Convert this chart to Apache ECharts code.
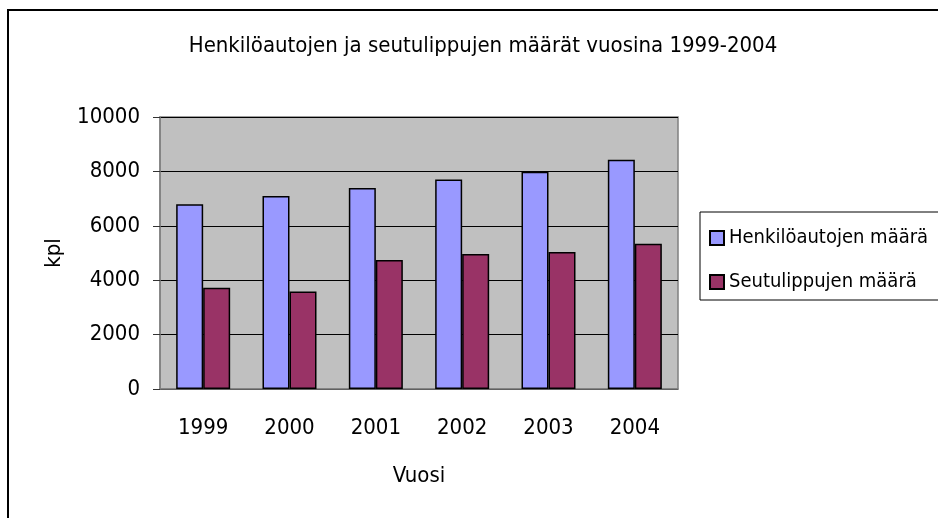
<!DOCTYPE html>
<html>
<head>
<meta charset="utf-8">
<script src="https://cdn.jsdelivr.net/npm/echarts@6/dist/echarts.min.js"></script>
<style>
  html, body { margin: 0; padding: 0; background: #fff; }
  #chart { width: 938px; height: 518px; }
</style>
</head>
<body>
<div id="chart"></div>
<script>
const years = ['1999', '2000', '2001', '2002', '2003', '2004']
const cars = [6790, 7100, 7390, 7700, 7990, 8430]
const tickets = [3720, 3580, 4740, 4960, 5040, 5340]

const font = "'Liberation Sans Narrow', 'Arial Narrow', 'DejaVu Sans Condensed', sans-serif"

const chart = echarts.init(document.getElementById('chart'))

chart.setOption({
  animation: false,
  textStyle: { fontFamily: font, color: '#000' },
  title: {
    text: 'Henkilöautojen ja seutulippujen määrät vuosina 1999-2004',
    left: 478,
    top: 30,
    textAlign: 'center',
    textStyle: { fontFamily: font, fontSize: 22, fontWeight: 'normal', color: '#000' },
  },
  graphic: [
    {
      type: 'rect',
      shape: { x: 8, y: 10, width: 1000, height: 600 },
      style: { fill: 'none', stroke: '#000', lineWidth: 2 },
      silent: true,
    },
  ],
  legend: {
    orient: 'vertical',
    left: 700,
    top: 212,
    padding: [16, 40, 8, 9],
    itemGap: 24,
    itemWidth: 14,
    itemHeight: 14,
    icon: 'rect',
    borderColor: '#000',
    borderWidth: 1,
    textStyle: { fontFamily: font, fontSize: 20, color: '#000' },
  },
  grid: {
    left: 160,
    right: 260,
    top: 117,
    bottom: 129,
    show: true,
    backgroundColor: '#c0c0c0',
    borderColor: '#808080',
    borderWidth: 1.5,
  },
  xAxis: {
    type: 'category',
    data: years,
    name: 'Vuosi',
    nameLocation: 'middle',
    nameGap: 76,
    nameTextStyle: { fontFamily: font, fontSize: 22, color: '#000' },
    axisLine: { lineStyle: { color: '#808080', width: 1.5 } },
    axisTick: { length: 7, lineStyle: { color: '#333' } },
    axisLabel: { margin: 28, fontFamily: font, fontSize: 22, color: '#000' },
  },
  yAxis: {
    type: 'value',
    min: 0,
    max: 10000,
    interval: 2000,
    name: 'kpl',
    nameLocation: 'middle',
    nameGap: 95,
    nameTextStyle: { fontFamily: font, fontSize: 22, color: '#000' },
    axisLine: { show: true, lineStyle: { color: '#808080', width: 1.5 } },
    axisTick: { show: true, length: 7, lineStyle: { color: '#333' } },
    axisLabel: { margin: 20, fontFamily: font, fontSize: 22, color: '#000', formatter: (v) => String(v) },
    splitLine: { lineStyle: { color: '#000', width: 1 } },
  },
  series: [
    {
      name: 'Henkilöautojen määrä',
      type: 'bar',
      data: cars,
      barWidth: 27,
      barGap: '0%',
      itemStyle: { color: '#9999ff', borderColor: '#000', borderWidth: 1.5 },
    },
    {
      name: 'Seutulippujen määrä',
      type: 'bar',
      data: tickets,
      barWidth: 27,
      barGap: '0%',
      itemStyle: { color: '#993366', borderColor: '#000', borderWidth: 1.5 },
    },
  ],
})
</script>
</body>
</html>
